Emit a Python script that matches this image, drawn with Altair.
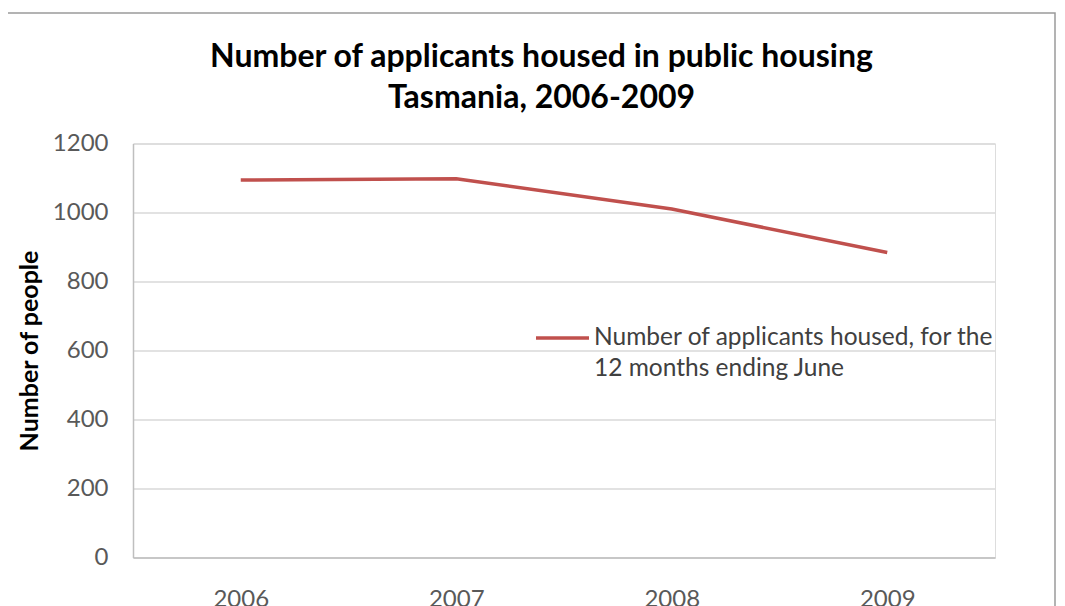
import altair as alt
import pandas as pd

years = ["2006", "2007", "2008", "2009"]
housed = [1094, 1098, 1010, 884]
series_name = "Number of applicants housed, for the|12 months ending June"
title_lines = ["Number of applicants housed in public housing", "Tasmania, 2006-2009"]
y_title = "Number  of people"
y_ticks = [0, 200, 400, 600, 800, 1000, 1200]

df = pd.DataFrame({"year": years, "value": housed, "series": [series_name] * len(years)})

FONT = "Lato"
W, H = 862, 414

border = alt.Chart(alt.Data(values=[{}])).mark_rect(
    fill=None, stroke="#9a9a9a", strokeWidth=1.5
).encode(
    x=alt.value(-126), x2=alt.value(922),
    y=alt.value(-130.5), y2=alt.value(480),
)

line = alt.Chart(df).mark_line(strokeWidth=3.5).encode(
    x=alt.X("year:O", scale=alt.Scale(type="point", padding=0.5),
            axis=alt.Axis(title=None, labelAngle=0, labelFontSize=24, labelColor="#595959",
                          labelFont=FONT, labelPadding=30, ticks=False, domain=True,
                          domainColor="#bfbfbf", domainWidth=1.5, grid=False)),
    y=alt.Y("value:Q", scale=alt.Scale(domain=[0, 1200], nice=False),
            axis=alt.Axis(values=y_ticks, format="d", title=y_title, titleFont=FONT, titleFontSize=25,
                          titleFontWeight="bold", titleColor="#000000", titleAngle=-90,
                          titleX=-104, titleY=207, titleAlign="center", titleBaseline="middle",
                          labelFontSize=24, labelColor="#595959", labelFont=FONT, labelPadding=25,
                          ticks=False, domain=True, domainColor="#bfbfbf", domainWidth=1.5,
                          grid=True, gridColor="#d9d9d9", gridWidth=1.5)),
    color=alt.Color("series:N", scale=alt.Scale(range=["#C0504D"]),
                    legend=alt.Legend(title=None, orient="none", legendX=401, legendY=166,
                                      labelExpr="split(datum.label, '|')",
                                      labelFont=FONT, labelFontSize=24.5, labelColor="#404040",
                                      labelLimit=600, labelOffset=3,
                                      symbolType="M -1 0 L 1 0",
                                      symbolSize=2809, symbolStrokeWidth=3.5, padding=0)),
)

chart = alt.layer(border, line).properties(
    width=W, height=H,
    title=alt.TitleParams(title_lines, font=FONT, fontSize=32, fontWeight="bold", color="#000000",
                          lineHeight=41, anchor="middle", dx=-22.5, offset=-103),
    autosize=alt.AutoSizeParams(type="none"),
    padding={"left": 125, "top": 135.5, "right": 62, "bottom": 48.5},
).configure_view(strokeWidth=0).configure(
    background="white", style={"guide-label": {"lineHeight": 31}}
)

chart.save("out.html", embed_options={"renderer": "svg", "actions": False})
